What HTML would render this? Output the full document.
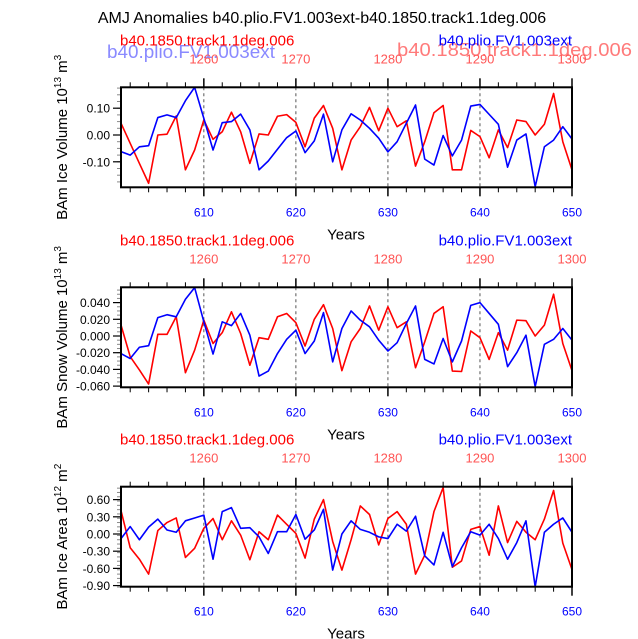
<!DOCTYPE html>
<html><head><meta charset="utf-8"><style>
html,body{margin:0;padding:0;background:#fff;}
svg{display:block;font-family:"Liberation Sans",Arial,sans-serif;}
</style></head><body>
<svg id="chart" width="638" height="639" viewBox="0 0 638 639" xmlns="http://www.w3.org/2000/svg">
<text x="322" y="23" font-size="16" text-anchor="middle" fill="#000">AMJ Anomalies b40.plio.FV1.003ext-b40.1850.track1.1deg.006</text>
<text x="107" y="58" font-size="18" fill="#8a8aff" textLength="168" lengthAdjust="spacingAndGlyphs">b40.plio.FV1.003ext</text>
<text x="397" y="56" font-size="18" fill="#ff7a7a" textLength="235" lengthAdjust="spacingAndGlyphs">b40.1850.track1.1deg.006</text>
<g id="panels"></g>
</svg>
<script>
const years = [];
for (let y = 601; y <= 650; y++) years.push(y);
const xTicks = [610, 620, 630, 640, 650];
const topTicks = [1260, 1270, 1280, 1290, 1300];

const iceRed = [0.044,-0.031,-0.106,-0.18,0.0,0.003,0.071,-0.13,-0.056,0.056,-0.016,0.012,0.085,0.012,-0.106,0.004,0.0,0.07,0.076,0.047,-0.044,0.063,0.11,0.025,-0.13,-0.019,0.031,0.103,0.016,0.1,0.031,0.053,-0.116,-0.025,0.083,0.11,-0.13,-0.13,0.017,-0.006,-0.085,0.019,-0.047,0.056,0.05,0.0,0.04,0.155,-0.025,-0.13];
const iceBlue = [-0.062,-0.075,-0.044,-0.04,0.065,0.075,0.065,0.128,0.178,0.062,-0.056,0.046,0.05,0.078,0.019,-0.13,-0.097,-0.053,-0.01,0.015,-0.066,-0.022,0.078,-0.1,0.019,0.079,0.056,0.025,-0.012,-0.063,-0.025,0.044,0.112,-0.09,-0.112,-0.002,-0.078,-0.019,0.108,0.114,0.077,0.04,-0.12,-0.019,0.004,-0.193,-0.044,-0.019,0.031,-0.015];
const snowRed = [0.0132,-0.0248,-0.0407,-0.0575,0.002,0.002,0.023,-0.044,-0.017,0.019,-0.009,0.004,0.029,0.003,-0.035,-0.002,-0.004,0.023,0.027,0.016,-0.012,0.02,0.0375,0.009,-0.0415,-0.007,0.009,0.036,0.007,0.035,0.01,0.017,-0.038,-0.007,0.027,0.035,-0.042,-0.0425,0.006,-0.002,-0.028,0.004,-0.017,0.019,0.0183,0.0,0.013,0.05,-0.009,-0.0415];
const snowBlue = [-0.021,-0.027,-0.0135,-0.0116,0.022,0.0255,0.023,0.044,0.058,0.017,-0.0216,0.017,0.0124,0.027,0.001,-0.048,-0.042,-0.021,-0.004,0.007,-0.021,-0.006,0.028,-0.031,0.009,0.03,0.019,0.011,-0.005,-0.018,-0.008,0.015,0.036,-0.028,-0.0335,-0.003,-0.031,-0.006,0.0367,0.04,0.027,0.014,-0.0367,-0.02,0.001,-0.0607,-0.01,-0.004,0.009,-0.005];
const areaRed = [0.41,-0.24,-0.44,-0.70,0.06,0.2,0.28,-0.41,-0.25,0.1,0.27,-0.10,0.23,-0.02,-0.45,0.04,-0.10,0.33,0.17,0.01,-0.42,0.26,0.6,-0.13,-0.63,-0.10,0.49,0.34,-0.19,0.27,0.39,0.17,-0.70,-0.37,0.39,0.81,-0.58,-0.47,0.08,0.13,-0.37,0.49,-0.15,0.22,0.03,-0.10,0.26,0.76,-0.16,-0.62];
const areaBlue = [-0.08,0.13,-0.10,0.12,0.26,0.07,0.03,0.23,0.28,0.33,-0.44,0.39,0.46,0.10,0.11,-0.05,-0.34,0.04,0.04,0.34,-0.09,0.07,0.43,-0.63,0.0,0.23,0.08,0.03,-0.05,-0.08,0.17,0.05,0.31,-0.38,-0.54,0.03,-0.57,-0.24,0.04,-0.02,0.17,-0.08,-0.44,-0.15,0.23,-0.92,0.03,0.17,0.28,0.03];

const iceTicks = [0.10, 0.00, -0.10];
const snowTicks = [0.04, 0.02, 0.0, -0.02, -0.04, -0.06];
const areaTicks = [0.6, 0.3, 0.0, -0.3, -0.6, -0.9];

const NS = "http://www.w3.org/2000/svg";
const root = document.getElementById("panels");
const X0 = 121, X1 = 572;
function xScale(yr) { return X0 + (yr - 601) * (X1 - X0) / 49; }
function mk(tag, attrs, parent) {
  const e = document.createElementNS(NS, tag);
  for (const k in attrs) e.setAttribute(k, attrs[k]);
  parent.appendChild(e);
  return e;
}

function panel(key, top, zeroY, pxPerUnit, ticks, tickFmt, minorStep, vmin, vmax, red, blue, ylab, expo, unit, uexp) {
  const bottom = top + 100;
  const yScale = v => zeroY - v * pxPerUnit;
  const g = mk("g", {}, root);
  
  
  const lr = mk("text", {x: 120, y: top - 42, "font-size": 15, fill: "#f00"}, g);
  lr.textContent = "b40.1850.track1.1deg.006";
  
  
  const lb = mk("text", {x: 572, y: top - 42, "font-size": 15, fill: "#00f", "text-anchor": "end"}, g);
  lb.textContent = "b40.plio.FV1.003ext";
  
  
  topTicks.forEach((t, i) => {
    const tx = mk("text", {x: xScale(xTicks[i]), y: top - 24, "font-size": 13, fill: "#f55", "text-anchor": "middle"}, g);
    tx.textContent = t;
    
    
  });
  xTicks.slice(0, 4).forEach(t => {
    const l = mk("line", {x1: xScale(t), x2: xScale(t), y1: top, y2: bottom, stroke: "#555", "stroke-width": 1, "stroke-dasharray": "3,3"}, g);
    
    
  });
  for (let yr = 602; yr <= 650; yr += 2) {
    const xx = xScale(yr);
    const major = xTicks.indexOf(yr) >= 0;
    const len = major ? 9 : 5;
    mk("line", {x1: xx, x2: xx, y1: top, y2: top - len, stroke: "#000", "stroke-width": major ? 1.5 : 1}, g);
    mk("line", {x1: xx, x2: xx, y1: bottom, y2: bottom + len, stroke: "#000", "stroke-width": major ? 1.5 : 1}, g);
  }
  xTicks.forEach(t => {
    const tx = mk("text", {x: xScale(t), y: bottom + 29, "font-size": 12, fill: "#00f", "text-anchor": "middle"}, g);
    tx.textContent = t;
    
    
  });
  const yt = mk("text", {x: 346, y: bottom + 52, "font-size": 15, fill: "#000", "text-anchor": "middle"}, g);
  yt.textContent = "Years";
  
  
  for (let v = vmin; v <= vmax + 1e-9; v += minorStep) {
    const yy = yScale(v);
    if (yy < top - 0.5 || yy > bottom + 0.5) continue;
    mk("line", {x1: X0, x2: X0 - 4, y1: yy, y2: yy, stroke: "#888", "stroke-width": 1}, g);
  }
  ticks.forEach(t => {
    const yy = yScale(t);
    mk("line", {x1: X0, x2: X0 - 8, y1: yy, y2: yy, stroke: "#000", "stroke-width": 1.2}, g);
    const tx = mk("text", {x: X0 - 11, y: yy + 4.5, "font-size": 12, fill: "#000", "text-anchor": "end"}, g);
    tx.textContent = tickFmt(t);
    
    
  });
  const yl = mk("text", {transform: `translate(67,${top + 50}) rotate(-90)`, "font-size": 15, fill: "#000", "text-anchor": "middle"}, g);
  
  
  yl.appendChild(document.createTextNode(ylab + " 10"));
  const s1 = mk("tspan", {dy: -6, "font-size": 10}, yl); s1.textContent = expo;
  const s2 = mk("tspan", {dy: 6}, yl); s2.textContent = " " + unit;
  const s3 = mk("tspan", {dy: -6, "font-size": 10}, yl); s3.textContent = uexp;
  const cid = key + "-clip";
  const cp = mk("clipPath", {id: cid}, g);
  mk("rect", {x: X0, y: top, width: X1 - X0, height: 100}, cp);
  const lines = mk("g", {"clip-path": `url(#${cid})`}, g);
  [[red, "#f00", "red"], [blue, "#00f", "blue"]].forEach(([arr, col, nm]) => {
    const d = arr.map((v, i) => (i ? "L" : "M") + xScale(years[i]).toFixed(2) + "," + yScale(v).toFixed(2)).join(" ");
    const p = mk("path", {d: d, fill: "none", stroke: col, "stroke-width": 1.6, "stroke-linejoin": "round"}, lines);
    
    
  });
  const fr = mk("rect", {x: X0, y: top, width: X1 - X0, height: 100, fill: "none", stroke: "#000", "stroke-width": 2}, g);
  
  
}

panel("ice", 87.3, 135, 268, iceTicks, v => v.toFixed(2), 0.025, -0.2, 0.2, iceRed, iceBlue, "BAm Ice Volume", "13", "m", "3");
panel("snow", 287.3, 336, 835, snowTicks, v => v.toFixed(3), 0.005, -0.07, 0.06, snowRed, snowBlue, "BAm Snow Volume", "13", "m", "3");
panel("area", 486.7, 534, 57.3, areaTicks, v => v.toFixed(2), 0.075, -1.0, 0.9, areaRed, areaBlue, "BAm Ice Area", "12", "m", "2");
</script>
</body></html>
